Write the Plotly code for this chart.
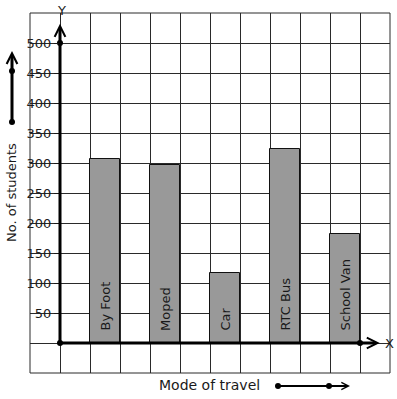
import plotly.graph_objects as go

categories = ["By Foot", "Moped", "Car", "RTC Bus", "School Van"]
students = [306, 297, 116, 323, 181]
y_ticks = [50, 100, 150, 200, 250, 300, 350, 400, 450, 500]

# bar slots on a 12-column grid: first bar in column 2, then every other column
xpos = [2.5 + 2 * i for i in range(len(categories))]

W, H = 397, 399
L, R, T, B = 30, 7, 13, 26
PW, PH = W - L - R, H - T - B
XR = [0, 12]
YR = [-50, 550]

def px2paper_x(px):
    return (px - L) / PW

def px2paper_y(py):
    return (H - B - py) / PH

fig = go.Figure()
fig.add_trace(go.Bar(
    x=xpos, y=students, width=1,
    marker=dict(color="#999999", line=dict(color="#111111", width=1)),
    hoverinfo="skip", showlegend=False,
))
# axis dots
fig.add_trace(go.Scatter(
    x=[1, 1, 11], y=[0, 500, 0], mode="markers",
    marker=dict(color="black", size=6), showlegend=False, hoverinfo="skip",
    cliponaxis=False,
))

extra_grid = [-50, 0, 550]

fig.update_layout(
    width=W, height=H,
    margin=dict(l=L, r=R, t=T, b=B, pad=0),
    paper_bgcolor="white", plot_bgcolor="white",
    font=dict(family="DejaVu Sans", size=13, color="#1a1a1a"),
    bargap=0,
    xaxis=dict(range=XR, dtick=1, tick0=0, showgrid=True, gridcolor="#2a2a2a",
               gridwidth=1, zeroline=False, showticklabels=False, ticks="",
               showline=False, fixedrange=True),
    yaxis=dict(range=YR, tickvals=y_ticks, ticktext=[str(v) for v in y_ticks],
               showgrid=True, gridcolor="#2a2a2a", gridwidth=1,
               minor=dict(tickvals=extra_grid, showgrid=True, gridcolor="#2a2a2a",
                          gridwidth=1, ticks=""),
               zeroline=False, showline=False, anchor="free", position=1 / 12,
               ticks="outside", ticklen=6, tickcolor="#1a1a1a", tickwidth=1,
               tickfont=dict(size=13, color="#1a1a1a"), fixedrange=True),
)

# frame
fig.add_shape(type="rect", xref="paper", yref="paper", x0=0, x1=1, y0=0, y1=1,
              line=dict(color="#2a2a2a", width=1), layer="above")

# Y axis arrow
fig.add_annotation(x=1, y=532, ax=1, ay=0, xref="x", yref="y", axref="x", ayref="y",
                   text="", showarrow=True, arrowhead=5, arrowsize=0.7,
                   arrowwidth=3, arrowcolor="black", standoff=0)
# X axis arrow
fig.add_annotation(x=11.66, y=0, ax=1, ay=0, xref="x", yref="y", axref="x", ayref="y",
                   text="", showarrow=True, arrowhead=5, arrowsize=0.7,
                   arrowwidth=3, arrowcolor="black", standoff=0)

fig.add_annotation(x=px2paper_x(61), y=px2paper_y(10), xref="paper", yref="paper",
                   xanchor="center", yanchor="middle",
                   text="Y", showarrow=False, font=dict(size=13, color="#1a1a1a"))
fig.add_annotation(x=11.75, y=0, xref="x", yref="y", xanchor="left", yanchor="middle",
                   text="X", showarrow=False, font=dict(size=13, color="#1a1a1a"))

# bar labels
for xv, name in zip(xpos, categories):
    fig.add_annotation(x=xv, y=0, xref="x", yref="y", xanchor="center",
                       yanchor="bottom", yshift=10, text=name, textangle=-90,
                       showarrow=False, font=dict(size=13, color="#1a1a1a"))

# axis titles
fig.add_annotation(x=px2paper_x(11), y=px2paper_y(193), xref="paper", yref="paper",
                   xanchor="center", yanchor="middle",
                   text="No. of students", textangle=-90, showarrow=False,
                   font=dict(size=13, color="#1a1a1a"))
fig.add_annotation(x=px2paper_x(209), y=px2paper_y(385), xref="paper", yref="paper",
                   xanchor="center", yanchor="middle", text="Mode of travel",
                   showarrow=False, font=dict(size=14, color="#1a1a1a"))

# decorative arrows next to the titles
fig.add_annotation(x=px2paper_x(12), y=px2paper_y(51), xref="paper", yref="paper",
                   ax=0, ay=71, text="", showarrow=True, arrowhead=5, arrowsize=0.7,
                   arrowwidth=3, arrowcolor="black", standoff=0)
fig.add_annotation(x=px2paper_x(350), y=px2paper_y(386), xref="paper", yref="paper",
                   ax=-72, ay=0, text="", showarrow=True, arrowhead=5, arrowsize=0.7,
                   arrowwidth=2, arrowcolor="black", standoff=0)
for (px, py) in [(12, 71), (12, 122), (278, 386), (329, 386)]:
    fig.add_shape(type="circle", xref="paper", yref="paper",
                  xsizemode="pixel", ysizemode="pixel",
                  xanchor=px2paper_x(px), yanchor=px2paper_y(py),
                  x0=-3, x1=3, y0=-3, y1=3,
                  fillcolor="black", line=dict(color="black", width=0))

fig.write_html("out.html")
